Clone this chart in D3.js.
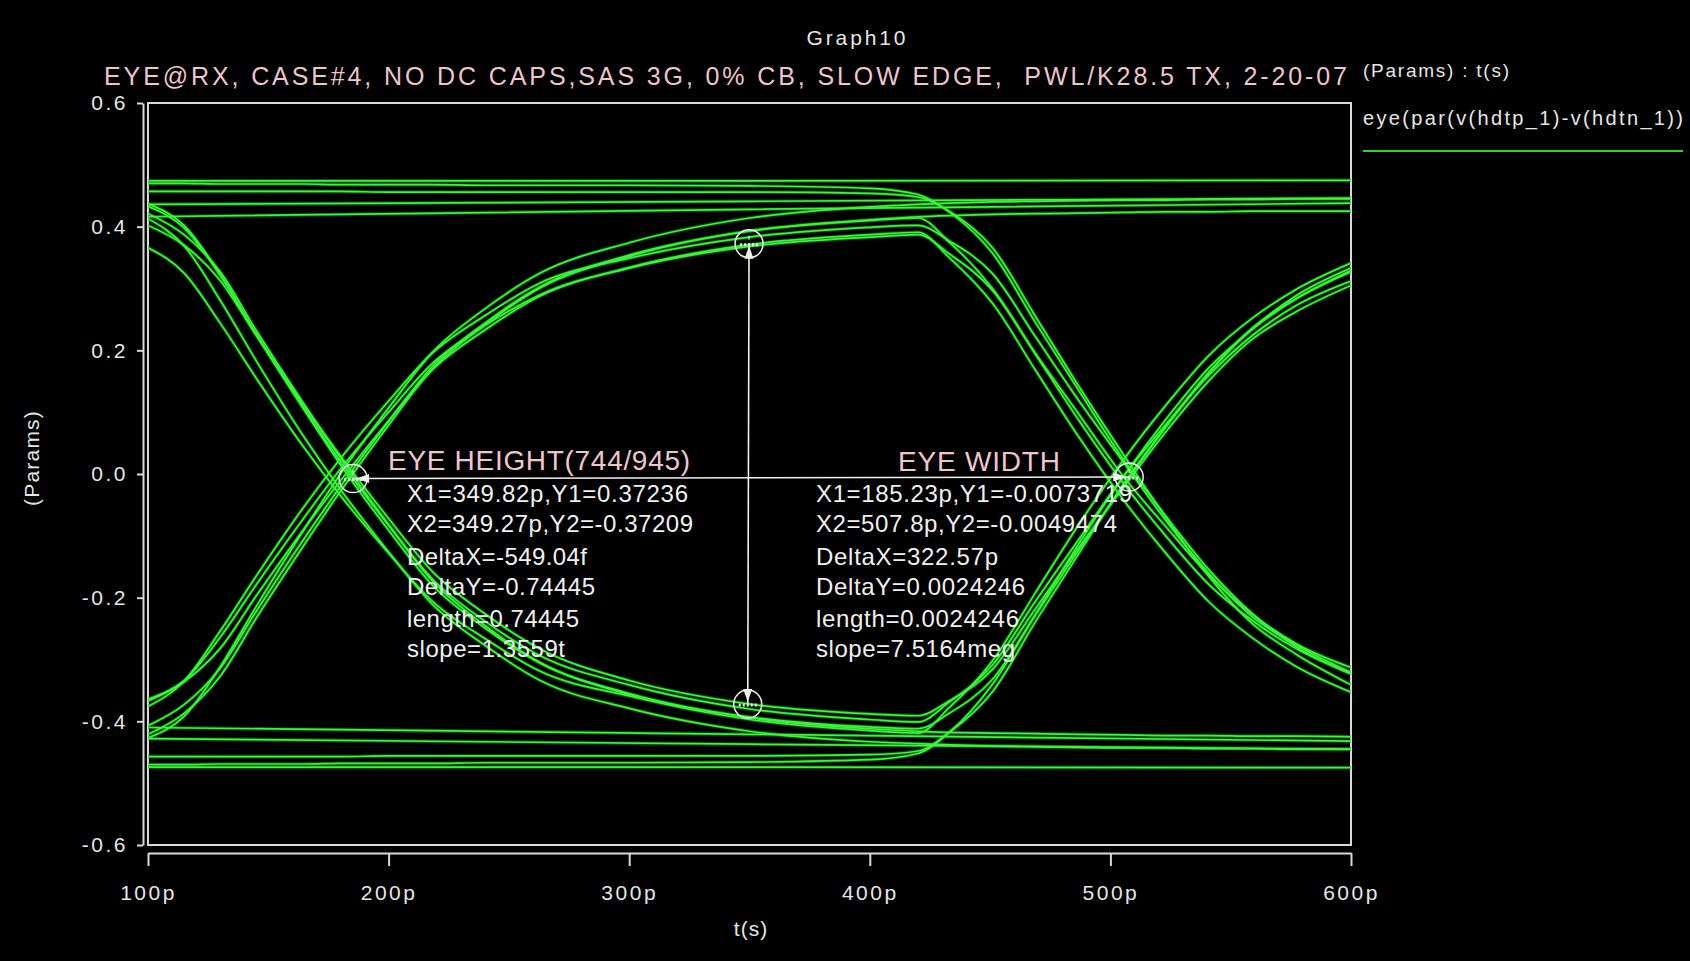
<!DOCTYPE html>
<html><head><meta charset="utf-8">
<script src="https://cdn.jsdelivr.net/npm/d3@7"></script>
<style>
html,body{margin:0;padding:0;background:#000;}
svg{display:block;}
text{font-family:"Liberation Sans",Arial,Helvetica,sans-serif;}
</style></head><body>
<svg id="chart" width="1690" height="961"></svg>
<script>
// ---------------- data ----------------
const graphTitle = "Graph10";
const graphSubtitle = "EYE@RX, CASE#4, NO DC CAPS,SAS 3G, 0% CB, SLOW EDGE,  PWL/K28.5 TX, 2-20-07";
const legendHeader = "(Params) : t(s)";
const seriesName = "eye(par(v(hdtp_1)-v(hdtn_1))";
const xTitle = "t(s)";
const yTitle = "(Params)";
const xTicks = [100, 200, 300, 400, 500, 600];
const yTicks = [-0.6, -0.4, -0.2, 0.0, 0.2, 0.4, 0.6];

// time grid (ps) shared by the transition traces
const timeGrid = [100,115,130,145,165,180,200,218,240,263,300,350,400,420,433,451,469,487,506,523,541,559,577,600];

const riseThenFall = [
  [-0.364,-0.334,-0.264,-0.179,-0.070,0.008,0.100,0.178,0.240,0.290,0.333,0.368,0.383,0.387,0.356,0.297,0.194,0.096,-0.007,-0.085,-0.164,-0.227,-0.274,-0.313],
  [-0.376,-0.335,-0.254,-0.165,-0.052,0.025,0.118,0.195,0.256,0.309,0.349,0.383,0.399,0.402,0.377,0.324,0.221,0.118,0.016,-0.075,-0.161,-0.231,-0.276,-0.321],
  [-0.421,-0.387,-0.327,-0.233,-0.114,-0.028,0.079,0.169,0.241,0.301,0.352,0.393,0.410,0.414,0.375,0.300,0.193,0.086,-0.018,-0.100,-0.179,-0.237,-0.282,-0.323],
  [-0.367,-0.336,-0.282,-0.197,-0.088,-0.011,0.086,0.168,0.233,0.288,0.334,0.371,0.387,0.391,0.350,0.276,0.167,0.059,-0.045,-0.128,-0.207,-0.265,-0.311,-0.353]
];
const fallThenRise = [
  [0.433,0.398,0.321,0.226,0.106,0.020,-0.083,-0.169,-0.238,-0.294,-0.341,-0.380,-0.397,-0.401,-0.369,-0.309,-0.205,-0.105,-0.001,0.080,0.160,0.224,0.272,0.312],
  [0.402,0.370,0.313,0.224,0.110,0.029,-0.072,-0.157,-0.226,-0.283,-0.334,-0.372,-0.388,-0.391,-0.367,-0.316,-0.217,-0.118,-0.019,0.068,0.151,0.218,0.262,0.305],
  [0.366,0.325,0.244,0.155,0.042,-0.035,-0.128,-0.205,-0.266,-0.319,-0.359,-0.393,-0.409,-0.412,-0.387,-0.332,-0.227,-0.122,-0.016,0.076,0.165,0.236,0.283,0.329],
  [0.421,0.387,0.327,0.232,0.112,0.026,-0.082,-0.172,-0.245,-0.305,-0.357,-0.397,-0.415,-0.419,-0.378,-0.302,-0.191,-0.081,0.026,0.111,0.192,0.252,0.298,0.341]
];
const riseThenHigh = [
  [-0.427,-0.392,-0.312,-0.214,-0.089,0.000,0.107,0.196,0.267,0.325,0.374,0.414,0.432,0.436,0.438,0.440,0.441,0.442,0.443,0.443,0.444,0.444,0.445,0.445],
  [-0.407,-0.373,-0.314,-0.222,-0.104,-0.020,0.085,0.173,0.244,0.303,0.354,0.393,0.411,0.416,0.418,0.420,0.421,0.422,0.423,0.424,0.424,0.425,0.425,0.425]
];
const fallThenLow = [
  [0.413,0.369,0.281,0.183,0.059,-0.025,-0.126,-0.210,-0.277,-0.334,-0.379,-0.416,-0.433,-0.436,-0.438,-0.440,-0.441,-0.442,-0.443,-0.443,-0.444,-0.444,-0.445,-0.445],
  [0.437,0.402,0.323,0.226,0.103,0.015,-0.091,-0.179,-0.249,-0.306,-0.355,-0.394,-0.412,-0.416,-0.418,-0.419,-0.420,-0.421,-0.422,-0.423,-0.423,-0.424,-0.424,-0.425]
];
const highThenFall = [
  [0.470,0.470,0.469,0.469,0.469,0.468,0.468,0.468,0.467,0.467,0.467,0.466,0.462,0.452,0.424,0.357,0.244,0.134,0.020,-0.068,-0.155,-0.226,-0.279,-0.323],
  [0.457,0.457,0.457,0.457,0.457,0.457,0.456,0.456,0.456,0.456,0.456,0.456,0.454,0.448,0.425,0.366,0.254,0.141,0.028,-0.070,-0.166,-0.242,-0.291,-0.341]
];
const lowThenRise = [
  [-0.470,-0.470,-0.469,-0.469,-0.469,-0.468,-0.468,-0.468,-0.467,-0.467,-0.467,-0.466,-0.462,-0.452,-0.418,-0.340,-0.226,-0.112,-0.001,0.088,0.172,0.234,0.283,0.327],
  [-0.457,-0.457,-0.457,-0.457,-0.457,-0.457,-0.456,-0.456,-0.456,-0.456,-0.456,-0.456,-0.454,-0.448,-0.418,-0.352,-0.238,-0.128,-0.013,0.076,0.164,0.235,0.288,0.333]
];
// steady (no transition) traces
const steadyTimes = [100, 350, 600];
const steadyHigh = [
  [0.474, 0.474, 0.475],
  [0.436, 0.441, 0.446],
  [0.416, 0.428, 0.438]
];
const steadyLow = [
  [-0.474, -0.474, -0.475],
  [-0.428, -0.437, -0.445],
  [-0.410, -0.421, -0.432]
];

// measurement cursors
const eyeHeightPts = [[349.82, 0.37236], [349.27, -0.37209]];
const eyeWidthPts  = [[185.23, -0.0073719], [507.8, -0.0049474]];
const eyeHeightLabel = "EYE HEIGHT(744/945)";
const eyeWidthLabel = "EYE WIDTH";
const eyeHeightLines = ["X1=349.82p,Y1=0.37236","X2=349.27p,Y2=-0.37209","DeltaX=-549.04f","DeltaY=-0.74445","length=0.74445","slope=1.3559t"];
const eyeWidthLines  = ["X1=185.23p,Y1=-0.0073719","X2=507.8p,Y2=-0.0049474","DeltaX=322.57p","DeltaY=0.0024246","length=0.0024246","slope=7.5164meg"];

// ---------------- drawing ----------------
const W = 1690, H = 961;
const svg = d3.select("#chart");
svg.append("rect").attr("width", W).attr("height", H).attr("fill", "#000");

const plot = {left: 148, right: 1351, top: 103, bottom: 845};
const x = d3.scaleLinear().domain([100, 600]).range([plot.left, plot.right]);
const y = d3.scaleLinear().domain([-0.6, 0.6]).range([plot.bottom, plot.top]);

const AX = "#d9d9d9", TXT = "#e6e6e6", PINK = "#eec4ce", GREEN = "#3af53a";

svg.append("defs").append("clipPath").attr("id", "clip")
  .append("rect").attr("x", plot.left).attr("y", plot.top)
  .attr("width", plot.right - plot.left).attr("height", plot.bottom - plot.top);

// frame
svg.append("rect").attr("x", plot.left).attr("y", plot.top)
  .attr("width", plot.right - plot.left).attr("height", plot.bottom - plot.top)
  .attr("fill", "none").attr("stroke", AX).attr("stroke-width", 2);

// traces
const gridTraces = [].concat(riseThenFall, fallThenRise, riseThenHigh, fallThenLow, highThenFall, lowThenRise)
  .map(vals => vals.map((v, i) => [timeGrid[i], v]));
const flatTraces = [].concat(steadyHigh, steadyLow)
  .map(vals => vals.map((v, i) => [steadyTimes[i], v]));
const traces = gridTraces.concat(flatTraces);

const line = d3.line().x(d => x(d[0])).y(d => y(d[1])).curve(d3.curveMonotoneX);
const tg = svg.append("g").attr("clip-path", "url(#clip)");
tg.selectAll("path.under").data(traces).join("path").attr("class", "under")
  .attr("d", line).attr("fill", "none").attr("stroke", "#12a012")
  .attr("stroke-width", 3.6).attr("stroke-opacity", 0.5);
tg.selectAll("path.core").data(traces).join("path").attr("class", "core")
  .attr("d", line).attr("fill", "none").attr("stroke", GREEN)
  .attr("stroke-width", 1.7);

// axes
const yAxis = d3.axisLeft(y).tickValues(yTicks).tickFormat(d => d.toFixed(1))
  .tickSize(6).tickSizeOuter(0).tickPadding(9);
const gy = svg.append("g").attr("transform", "translate(143,0)").call(yAxis);
const xAxis = d3.axisBottom(x).tickValues(xTicks).tickFormat(d => d + "p")
  .tickSize(13).tickSizeOuter(0).tickPadding(19);
const gx = svg.append("g").attr("transform", "translate(0,853)").call(xAxis);
[gy, gx].forEach(g => {
  g.select(".domain").attr("stroke", AX).attr("stroke-width", 2);
  g.selectAll(".tick line").attr("stroke", AX).attr("stroke-width", 2);
  g.selectAll(".tick text").attr("fill", TXT).attr("font-size", 21)
    .attr("font-family", "Liberation Sans, Arial, sans-serif").style("letter-spacing", "2.5px");
});

// axis titles
svg.append("text").attr("transform", "translate(32,458) rotate(-90)")
  .attr("text-anchor", "middle").attr("dy", "0.35em").attr("font-size", 21)
  .attr("fill", TXT).style("letter-spacing", "1.2px").text(yTitle);
svg.append("text").attr("x", 751).attr("y", 936).attr("text-anchor", "middle")
  .attr("font-size", 21).attr("fill", TXT).style("letter-spacing", "1px").text(xTitle);

// titles
svg.append("text").attr("x", 856).attr("y", 45).attr("text-anchor", "middle")
  .attr("font-size", 21).attr("fill", TXT)
  .attr("textLength", 99).attr("lengthAdjust", "spacing").text(graphTitle);
svg.append("text").attr("x", 104).attr("y", 85).attr("font-size", 25).attr("fill", PINK)
  .style("white-space", "pre").attr("textLength", 1243).attr("lengthAdjust", "spacing")
  .text(graphSubtitle);

// legend
svg.append("text").attr("x", 1363).attr("y", 77).attr("font-size", 19).attr("fill", TXT)
  .attr("textLength", 146).attr("lengthAdjust", "spacing").text(legendHeader);
svg.append("text").attr("x", 1363).attr("y", 125).attr("font-size", 20).attr("fill", TXT)
  .attr("textLength", 320).attr("lengthAdjust", "spacing").text(seriesName);
svg.append("line").attr("x1", 1363).attr("x2", 1683).attr("y1", 151).attr("y2", 151)
  .attr("stroke", "#2ad62a").attr("stroke-width", 2);

// cursors
const ann = svg.append("g");
const WH = "#f0f0f0";
function marker(px, py) {
  ann.append("circle").attr("cx", px).attr("cy", py).attr("r", 14)
    .attr("fill", "none").attr("stroke", WH).attr("stroke-width", 1.5);
  ann.append("line").attr("x1", px - 9).attr("x2", px + 9).attr("y1", py + 1).attr("y2", py + 1)
    .attr("stroke", WH).attr("stroke-width", 3).attr("stroke-dasharray", "2,2");
  ann.append("line").attr("x1", px).attr("x2", px).attr("y1", py - 8).attr("y2", py - 4)
    .attr("stroke", WH).attr("stroke-width", 1.2);
}
function arrow(tipX, tipY, dx, dy) { // dx,dy unit direction of arrow pointing
  const L = 13, w = 4.5;
  const bx = tipX - dx * L, by = tipY - dy * L;
  const px = -dy, py = dx;
  ann.append("path").attr("d", `M${tipX},${tipY}L${bx + px * w},${by + py * w}L${bx - px * w},${by - py * w}Z`)
    .attr("fill", WH);
}
const hp = eyeHeightPts.map(d => [x(d[0]), y(d[1])]);
const wp = eyeWidthPts.map(d => [x(d[0]), y(d[1])]);
ann.append("line").attr("x1", hp[0][0]).attr("y1", hp[0][1]).attr("x2", hp[1][0]).attr("y2", hp[1][1])
  .attr("stroke", WH).attr("stroke-width", 1.6);
ann.append("line").attr("x1", wp[0][0]).attr("y1", wp[0][1]).attr("x2", wp[1][0]).attr("y2", wp[1][1])
  .attr("stroke", WH).attr("stroke-width", 1.6);
hp.forEach(p => marker(p[0], p[1]));
wp.forEach(p => marker(p[0], p[1]));
arrow(hp[0][0], hp[0][1] + 2, 0, -1);
arrow(hp[1][0], hp[1][1] - 2, 0, 1);
arrow(wp[0][0] + 3, wp[0][1], -1, 0);
arrow(wp[1][0] - 3, wp[1][1], 1, 0);

// cursor texts
svg.append("text").attr("x", 388).attr("y", 470).attr("font-size", 28).attr("fill", PINK)
  .attr("textLength", 302).attr("lengthAdjust", "spacing").text(eyeHeightLabel);
svg.append("text").attr("x", 898).attr("y", 471).attr("font-size", 28).attr("fill", PINK)
  .attr("textLength", 162).attr("lengthAdjust", "spacing").text(eyeWidthLabel);
const lineBase = [502, 532, 565, 595, 627, 657];
const leftW = [281, 286, 180, 188, 172, 158];
const rightW = [316, 301, 182, 209, 203, 199];
eyeHeightLines.forEach((t, i) => {
  svg.append("text").attr("x", 407).attr("y", lineBase[i]).attr("font-size", 24).attr("fill", WH)
    .attr("textLength", leftW[i]).attr("lengthAdjust", "spacing").text(t);
});
eyeWidthLines.forEach((t, i) => {
  svg.append("text").attr("x", 816).attr("y", lineBase[i]).attr("font-size", 24).attr("fill", WH)
    .attr("textLength", rightW[i]).attr("lengthAdjust", "spacing").text(t);
});
</script>
</body></html>
